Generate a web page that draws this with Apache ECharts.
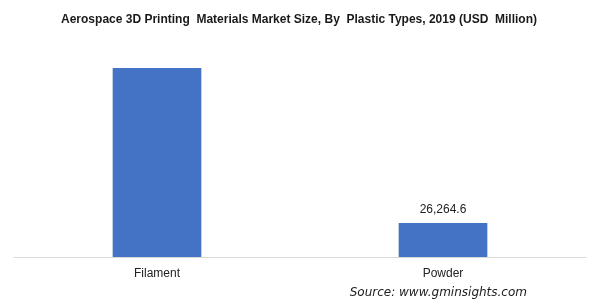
<!DOCTYPE html>
<html><head><meta charset="utf-8">
<script src="https://cdn.jsdelivr.net/npm/echarts@6/dist/echarts.min.js"></script>
<style>html,body{margin:0;padding:0;background:#fff}#c{width:598px;height:305px}</style>
</head><body><div id="c"></div>
<script>
const categories = ['Filament', 'Powder'];
const values = [146000, 26264.6];
const showLabel = [false, true];
const titleText = 'Aerospace 3D Printing  Materials Market Size, By  Plastic Types, 2019 (USD  Million)';
const sourceText = 'Source: www.gminsights.com';

const chart = echarts.init(document.getElementById('c'));
chart.setOption({
  animation: false,
  title: {
    text: titleText, left: 'center', top: 9,
    textStyle: {fontFamily: 'Liberation Sans, Arial', fontWeight: 'bold', fontSize: 12, color: '#1a1a1a'}
  },
  graphic: [{
    type: 'text', right: 71, top: 287,
    style: {text: sourceText, fontFamily: 'DejaVu Sans, Verdana', fontStyle: 'italic', fontSize: 12, fill: '#222'}
  }],
  grid: {left: 14, right: 12, top: 40, bottom: 48},
  xAxis: {
    type: 'category', data: categories,
    axisLine: {lineStyle: {color: '#d9d9d9'}},
    axisTick: {show: false},
    axisLabel: {color: '#222', fontSize: 12, fontFamily: 'Liberation Sans, Arial', margin: 11}
  },
  yAxis: {type: 'value', min: 0, max: 167600, show: false, splitLine: {show: false}},
  series: [{
    type: 'bar', barWidth: '31%',
    itemStyle: {color: '#4472c4'},
    data: values.map((v, i) => ({value: v, label: {show: showLabel[i]}})),
    label: {
      position: 'top', distance: 7, color: '#222', fontSize: 12, fontFamily: 'Liberation Sans, Arial',
      formatter: p => p.value.toLocaleString('en-US', {minimumFractionDigits: 1, maximumFractionDigits: 1})
    }
  }]
});
</script></body></html>
